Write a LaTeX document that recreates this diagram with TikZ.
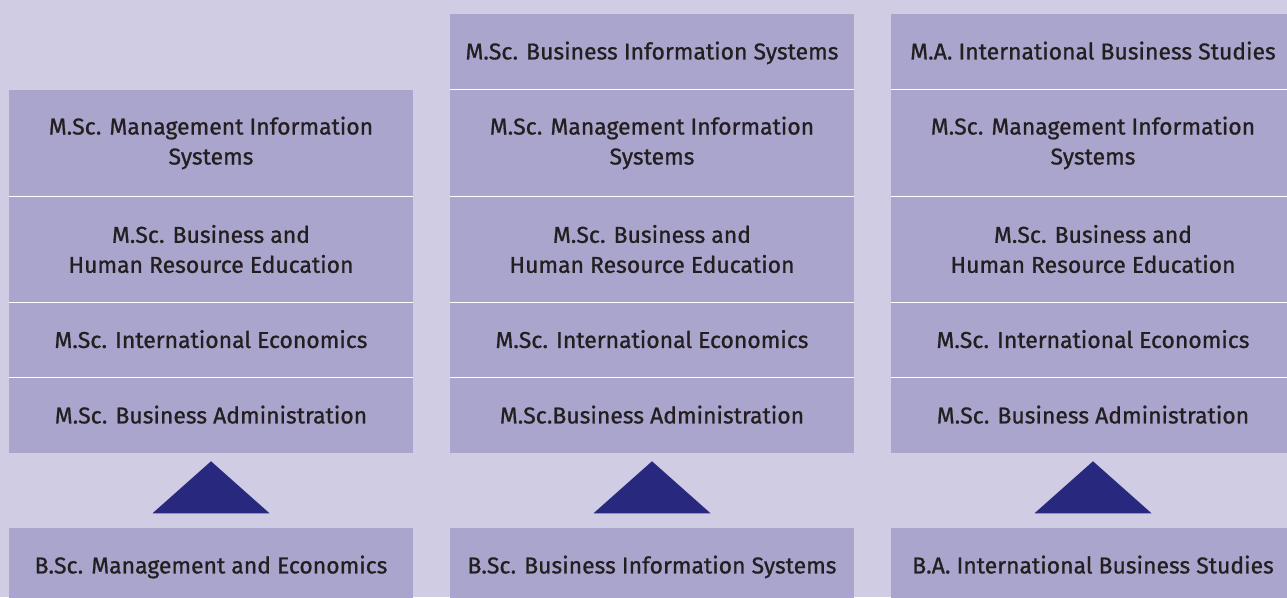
\documentclass[tikz,border=0pt]{standalone}
\usepackage{fontspec}
\setmainfont{Fira Sans}
\newfontfamily\cellfont[FakeBold=0.9]{Fira Sans}
\usepackage{xcolor}
\usetikzlibrary{calc}

\definecolor{panelbg}{HTML}{CFCCE4}
\definecolor{cellfill}{HTML}{A9A5CD}
\definecolor{arrowblue}{HTML}{29287F}
\definecolor{labelink}{HTML}{231F20}

\begin{document}
\begin{tikzpicture}[x=0.75pt, y=-0.75pt,
    cell/.style={fill=cellfill, text=labelink, minimum width=303pt, inner sep=0pt,
      align=center, font=\cellfont\fontsize{17.2}{22.5}\selectfont},
    tallcell/.style={cell, minimum height=79.5pt},
    flatcell/.style={cell, minimum height=56.25pt, text height=11.9pt, text depth=0pt},
    sepline/.style={draw=white, line width=0.75pt},
    uptri/.style={fill=arrowblue}]
    \clip (0,0) rectangle (1287,597);
    \fill[panelbg] (0,0) rectangle (1287,597);

    % top row (only second and third column)
    \node[flatcell] (r0c2) at (652,51.5)  {M.Sc. Business Information Systems};
    \node[flatcell] (r0c3) at (1093,51.5) {M.A. International Business Studies};

    % first column
    \node[tallcell] (r1c1) at (211,143)   {M.Sc. Management Information\\Systems};
    \node[tallcell] (r2c1) at (211,249)   {M.Sc. Business and\\Human Resource Education};
    \node[flatcell] (r3c1) at (211,340)   {M.Sc. International Economics};
    \node[flatcell] (r4c1) at (211,415.5) {M.Sc. Business Administration};
    \node[flatcell] (r5c1) at (211,565.5) {B.Sc. Management and Economics};

    % second column
    \node[tallcell] (r1c2) at (652,143)   {M.Sc. Management Information\\Systems};
    \node[tallcell] (r2c2) at (652,249)   {M.Sc. Business and\\Human Resource Education};
    \node[flatcell] (r3c2) at (652,340)   {M.Sc. International Economics};
    \node[flatcell] (r4c2) at (652,415.5) {M.Sc.Business Administration};
    \node[flatcell] (r5c2) at (652,565.5) {B.Sc. Business Information Systems};

    % third column
    \node[tallcell] (r1c3) at (1093,143)   {M.Sc. Management Information\\Systems};
    \node[tallcell] (r2c3) at (1093,249)   {M.Sc. Business and\\Human Resource Education};
    \node[flatcell] (r3c3) at (1093,340)   {M.Sc. International Economics};
    \node[flatcell] (r4c3) at (1093,415.5) {M.Sc. Business Administration};
    \node[flatcell] (r5c3) at (1093,565.5) {B.A. International Business Studies};

    % white rules between the stacked cells
    \draw[sepline] (r0c2.south west) -- (r0c2.south east);
    \draw[sepline] (r0c3.south west) -- (r0c3.south east);
    \foreach \c in {1,2,3} {
      \draw[sepline] (r1c\c.south west) -- (r1c\c.south east);
      \draw[sepline] (r2c\c.south west) -- (r2c\c.south east);
      \draw[sepline] (r3c\c.south west) -- (r3c\c.south east);
      \fill[uptri] ($(r4c\c.south)+(0,8)$) -- ++(58.5,52) -- ++(-117,0) -- cycle;
    }
\end{tikzpicture}
\end{document}
